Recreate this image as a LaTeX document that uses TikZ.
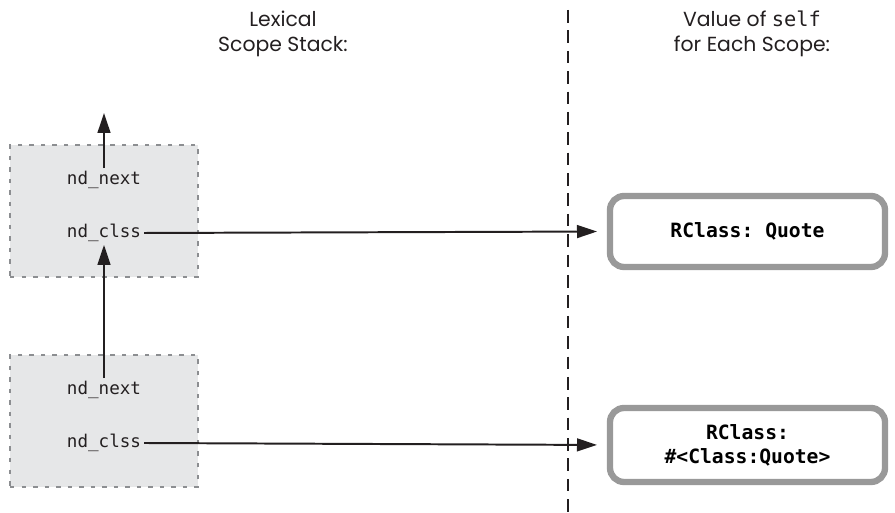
\documentclass[tikz,border=0pt]{standalone}
\usepackage{fontspec}
\setmonofont{DejaVu Sans Mono}
\newfontfamily\headfont{Poppins}
\usepackage{tikz}
\usetikzlibrary{arrows.meta, positioning, calc}
\definecolor{FrameGray}{RGB}{140,142,145}
\definecolor{FillGray}{RGB}{230,231,232}
\definecolor{ValGray}{RGB}{153,153,153}
\definecolor{InkBlack}{RGB}{35,31,32}

\begin{document}
\begin{tikzpicture}[font=\ttfamily\fontsize{12.5}{15}\selectfont,
	frame/.style={draw=FrameGray, fill=FillGray, line width=1.6pt, dash pattern=on 3.2pt off 5pt,
		minimum width=4.7cm, minimum height=3.3cm, inner sep=0pt},
	field/.style={text=InkBlack, inner sep=2pt},
	valbox/.style={draw=ValGray, line width=4.5pt, rounded corners=10pt, fill=white,
		minimum width=6.875cm, align=center, font=\ttfamily\bfseries\fontsize{14}{17}\selectfont},
	head/.style={align=center, font=\headfont\fontsize{14.5}{17.8}\selectfont, text=InkBlack},
	link/.style={-{Stealth[length=5mm, width=3.2mm, inset=0pt]}, line width=1.4pt, draw=InkBlack}]
	\useasboundingbox (0,0) rectangle (22.375,12.825);
	% scope stack
	\node[frame] (stackA) at (2.6,7.55) {};
	\node[frame] (stackB) at (2.6,2.3) {};
	\node[field] (nextA) at (2.6,8.325) {nd\_next};
	\node[field] (clssA) at (2.6,7.0) {nd\_clss};
	\node[field] (nextB) at (2.6,3.075) {nd\_next};
	\node[field] (clssB) at (2.6,1.75) {nd\_clss};
	\coordinate (up) at (2.6,10.0);
	% divider
	\coordinate (divtop) at (14.2,12.575);
	\coordinate (divbot) at (14.2,0);
	\draw[InkBlack, line width=2pt, dash pattern=on 9pt off 5.5pt] (divtop) -- (divbot);
	% values of self
	\node[valbox, minimum height=1.775cm] (selfA) at (18.6875,7.0375) {RClass: Quote};
	\node[valbox, minimum height=1.85cm] (selfB) at (18.6875,1.7) {RClass:\\\#<Class:Quote>};
	% headers
	\node[head] (lexhead) at (7.075,11.975) {Lexical\\Scope Stack:};
	\node[head] (selfhead) at (18.8,11.975) {Value of {\ttfamily\fontsize{14.5}{17.8}\selectfont self}\\for Each Scope:};
	% links
	\draw[link] (nextA.north) -- (up);
	\draw[link] (nextB.north) -- (clssA.south);
	\draw[link, shorten >=7pt] (clssA.east) -- (selfA.west);
	\draw[link, shorten >=7pt] (clssB.east) -- (selfB.west);
\end{tikzpicture}
\end{document}
